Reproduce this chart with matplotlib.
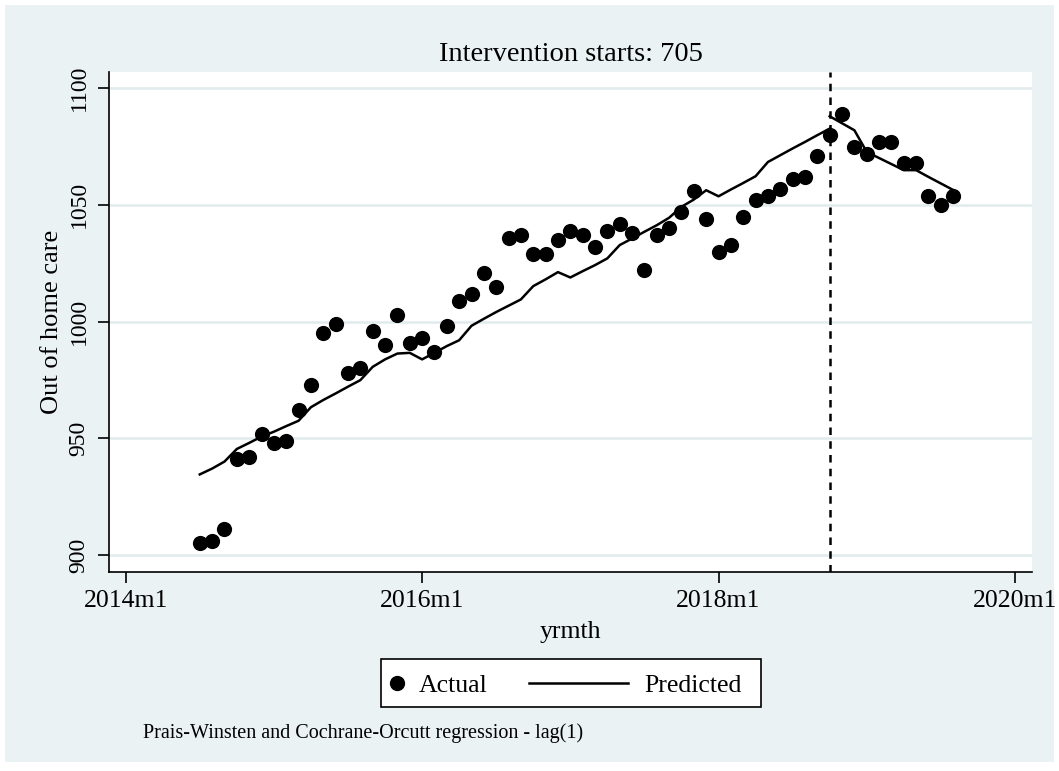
import matplotlib.pyplot as plt
from matplotlib.patches import Rectangle
from matplotlib.lines import Line2D

# Stata monthly dates (0 = 1960m1), 654 = 2014m7 ... 715 = 2019m8
months = list(range(654, 716))

actual = [905, 906, 911, 941, 942, 952, 948, 949, 962, 973,
          995, 999, 978, 980, 996, 990, 1003, 991, 993, 987,
          998, 1009, 1012, 1021, 1015, 1036, 1037, 1029, 1029, 1035,
          1039, 1037, 1032, 1039, 1042, 1038, 1022, 1037, 1040, 1047,
          1056, 1044, 1030, 1033, 1045, 1052, 1054, 1057, 1061, 1062,
          1071, 1080, 1089, 1075, 1072, 1077, 1077, 1068, 1068, 1054,
          1050, 1054]

# predicted values, pre-intervention segment (654..705)
pred_pre = [934.5, 937.0, 940.0, 945.4, 948.0, 950.7, 952.8, 955.2, 957.5, 963.3,
            966.4, 969.2, 972.1, 974.9, 980.6, 983.8, 986.3, 986.6, 983.8, 986.6,
            989.5, 992.0, 998.2, 1001.2, 1004.1, 1006.8, 1009.5, 1015.2, 1018.1, 1021.2,
            1018.9, 1021.6, 1024.2, 1027.1, 1032.8, 1035.6, 1038.5, 1041.3, 1044.5, 1049.2,
            1052.3, 1056.3, 1053.7, 1056.6, 1059.4, 1062.3, 1068.4, 1071.3, 1074.2, 1077.0,
            1079.9, 1082.7]
# predicted values, post-intervention segment (705..715)
pred_post = [1088.0, 1085.0, 1082.0, 1072.7, 1070.1, 1067.5, 1064.9, 1064.9, 1062.0, 1059.2,
             1056.4]

intervention = 705
xtick_pos = [648, 672, 696, 720]
xtick_labels = ["2014m1", "2016m1", "2018m1", "2020m1"]
ytick_pos = [900, 950, 1000, 1050, 1100]

bg = "#eaf2f3"
grid_col = "#e1ebed"
W, H = 1059, 771
plt.rcParams['font.family'] = ["Liberation Serif", "DejaVu Serif"]

fig = plt.figure(figsize=(W / 100, H / 100), dpi=100)
fig.patch.set_facecolor("white")
# Stata-like graph region with thin white margin
fig.add_artist(Rectangle((5 / W, 9 / H), 1 - 10 / W, 1 - 14 / H,
                         transform=fig.transFigure, facecolor=bg, edgecolor="none", zorder=0))

# plot region in pixel terms: x 109..1032, y 71.7..571.7
ax = fig.add_axes([109 / W, (H - 571.7) / H, (1032 - 109) / W, (571.7 - 71.7) / H])
ax.set_facecolor("white")

pre_x = months[:intervention - months[0] + 1]
post_x = months[intervention - months[0]:]

ax.scatter(months, actual, s=120, color="black", zorder=3, linewidths=0)
ax.plot(pre_x, pred_pre, color="black", lw=1.8, zorder=2)
ax.plot(post_x, pred_post, color="black", lw=1.8, zorder=2)
ax.axvline(intervention, color="black", lw=1.8, ls=(0, (3, 2.5)), zorder=2)

ax.set_xlim(646.65, 721.38)
ax.set_ylim(892.8, 1107.1)
ax.set_xticks(xtick_pos)
ax.set_xticklabels(xtick_labels, fontsize=18.5)
ax.set_yticks(ytick_pos)
ax.set_yticklabels([str(v) for v in ytick_pos], fontsize=17, rotation=90, va="center")
ax.tick_params(axis="both", length=8, width=1.2, direction="out", color="black")
ax.tick_params(axis="x", pad=5.5)
ax.tick_params(axis="y", pad=6)
ax.grid(axis="y", color=grid_col, lw=1.8)
ax.set_axisbelow(True)

for side in ["top", "right"]:
    ax.spines[side].set_visible(False)
for side in ["left", "bottom"]:
    ax.spines[side].set_color("black")
    ax.spines[side].set_linewidth(1.2)

ax.set_xlabel("yrmth", fontsize=18.5, labelpad=6)
ax.set_ylabel("Out of home care", fontsize=19, labelpad=4)
ax.set_title("Intervention starts: 705", fontsize=20.5, pad=8)

# legend drawn by hand to match Stata's layout
fig.add_artist(Rectangle((381 / W, 1 - 707.3 / H), (760.7 - 381) / W, (707.3 - 659.3) / H,
                         transform=fig.transFigure, facecolor="white", edgecolor="black",
                         lw=1.2, zorder=5))
leg_y = 1 - 683.3 / H
fig.add_artist(Line2D([396.7 / W], [leg_y], marker="o", color="black", ls="none",
                      markersize=10, transform=fig.transFigure, zorder=6))
fig.add_artist(Line2D([529 / W, 628 / W], [leg_y, leg_y], color="black", lw=1.8,
                      transform=fig.transFigure, zorder=6))
fig.text(419 / W, leg_y, "Actual", fontsize=18.5, ha="left", va="center_baseline", zorder=6)
fig.text(644 / W, leg_y, "Predicted", fontsize=18.5, ha="left", va="center_baseline", zorder=6)

fig.text(143 / W, 1 - 733 / H, "Prais-Winsten and Cochrane-Orcutt regression - lag(1)",
         fontsize=14.5, va="center", ha="left")

fig.savefig("out.png", dpi=100, facecolor=fig.get_facecolor())
